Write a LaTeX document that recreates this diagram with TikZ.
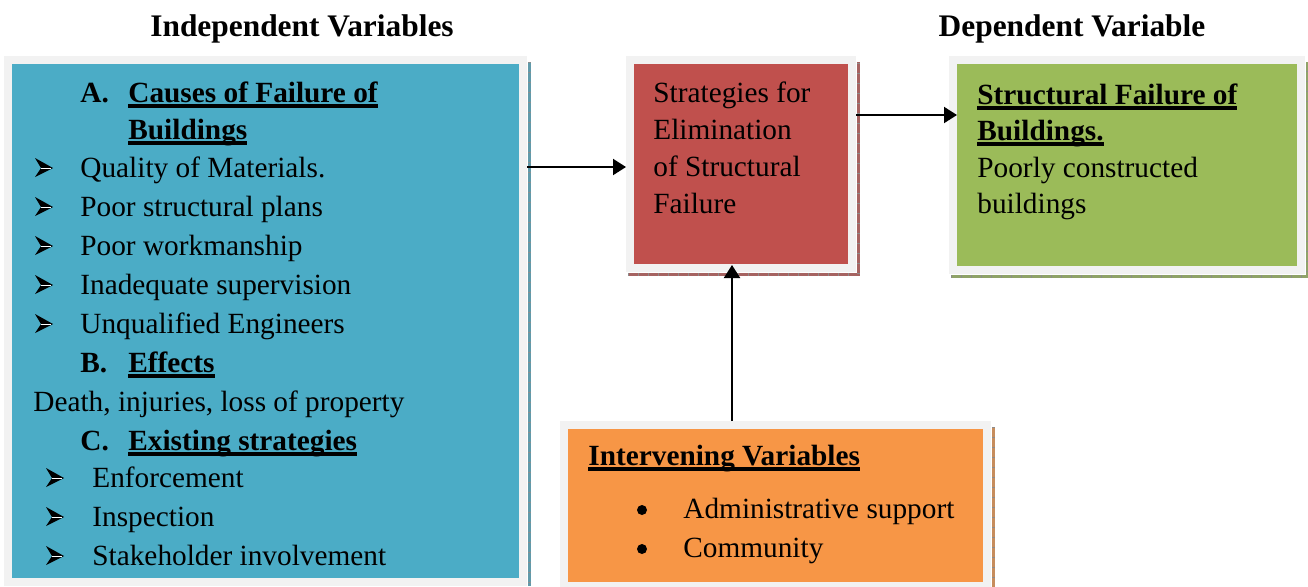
\documentclass[tikz,border=0pt]{standalone}
\usepackage{fontspec}
\setmainfont{Liberation Serif}
\usetikzlibrary{arrows.meta,fit,positioning}
\newcommand{\thickul}[1]{\setbox0\hbox{#1}\rlap{\rule[-2.8pt]{\wd0}{1.6pt}}\box0}
\definecolor{framegray}{RGB}{242,242,242}
\definecolor{indepblue}{RGB}{75,172,198}
\definecolor{stratred}{RGB}{192,80,77}
\definecolor{depgreen}{RGB}{155,187,89}
\definecolor{intorange}{RGB}{247,150,70}
\tikzstyle{varbox} = [rectangle, draw=framegray, line width=4pt, inner sep=0pt, outer sep=2pt]
\tikzstyle{txt} = [anchor=base west, inner sep=0pt, font=\fontsize{14.65}{18}\selectfont]
\tikzstyle{head} = [txt, font=\fontsize{14.65}{18}\selectfont\bfseries]
\tikzstyle{title} = [anchor=base, inner sep=0pt, font=\fontsize{15.7}{19}\selectfont\bfseries]
\tikzstyle{dotbul} = [circle, fill=black, inner sep=0pt, minimum size=5pt]
\tikzstyle{shadowline} = [line width=1.5pt, postaction={draw=black!45, line width=1.5pt, dash pattern=on 0.5pt off 4.5pt}]
\tikzstyle{flow} = [draw, line width=1pt, -{Triangle[length=6.5pt,width=8pt]}]
\tikzset{arrowmark/.pic={
  \fill[black] (0,-19) -- (18,-9) -- (0,0) -- (6,-9) -- cycle;
  \draw[white, line width=0.3pt] (6,-9) -- (16,-9);
}}

\begin{document}
\begin{tikzpicture}[x=0.5pt, y=-0.5pt]
\useasboundingbox (0,0) rectangle (1308,586);

% variable boxes =============================
\node[varbox, fill=indepblue, fit={(8,60) (523,582)}] (indep) {};
\node[varbox, fill=stratred, fit={(630,60) (852,268)}] (strat) {};
\node[varbox, fill=depgreen, fit={(953,60) (1301,270)}] (dep) {};
\node[varbox, fill=intorange, fit={(564,425) (987,586)}] (interv) {};

% shadows
\draw[shadowline, indepblue!60!gray] ([shift={(1pt,-3pt)}]indep.north east) -- ([xshift=1pt]indep.south east);
\draw[shadowline, stratred!60!gray] ([shift={(1pt,-1pt)}]strat.south west) -- ([shift={(1pt,-1pt)}]strat.south east) -- ([shift={(1pt,-3pt)}]strat.north east);
\draw[shadowline, depgreen!60!gray] ([shift={(1pt,-1pt)}]dep.south west) -- ([shift={(1pt,-1pt)}]dep.south east) -- ([shift={(1pt,-3pt)}]dep.north east);
\draw[shadowline, intorange!60!gray] ([shift={(1pt,-3pt)}]interv.north east) -- ([xshift=1pt]interv.south east);

% titles
\node[title] (indtitle) at (302,36) {Independent Variables};
\node[title] (deptitle) at (1072,36) {Dependent Variable};

% independent variables
\node[head] (lblA) at (80,102) {A.};
\node[head] (causes1) at (128,102) {\thickul{Causes of Failure of}};
\node[head] (causes2) at (128,139) {\thickul{Buildings}};
\foreach \txt [count=\i] in {Quality of Materials., Poor structural plans, Poor workmanship, Inadequate supervision, Unqualified Engineers} {
  \pic at (35,{177+39*(\i-1)}) {arrowmark};
  \node[txt] (cause\i) at (80,{177+39*(\i-1)}) {\txt};
}
\node[head] (lblB) at (80,372) {B.};
\node[head] (effects) at (128,372) {\thickul{Effects}};
\node[txt] (death) at (33,411) {Death, injuries, loss of property};
\node[head] (lblC) at (80,450) {C.};
\node[head] (existing) at (128,450) {\thickul{Existing strategies}};
\foreach \txt [count=\i] in {Enforcement, Inspection, Stakeholder involvement} {
  \pic at (46,{487+39*(\i-1)}) {arrowmark};
  \node[txt] (strategy\i) at (92,{487+39*(\i-1)}) {\txt};
}

% strategies
\foreach \txt [count=\i] in {Strategies for, Elimination, of Structural, Failure}
  \node[txt] (elim\i) at (653,{102+37*(\i-1)}) {\txt};

% dependent variable
\node[head] (fail1) at (977,104) {\thickul{Structural Failure of}};
\node[head] (fail2) at (977,140) {\thickul{Buildings.}};
\node[txt] (poor1) at (977,177) {Poorly constructed};
\node[txt] (poor2) at (977,213) {buildings};

% intervening variables
\node[head] (intvhead) at (588,465) {\thickul{Intervening Variables}};
\foreach \txt [count=\i] in {Administrative support, Community} {
  \node[dotbul] (dot\i) at (642,{510+39*(\i-1)}) {};
  \node[txt] (intv\i) at (683,{518+39*(\i-1)}) {\txt};
}

% edges
\coordinate (inarrow) at (0,167);
\coordinate (outarrow) at (0,115);
\coordinate (uparrow) at (732,0);
\draw[flow] (indep.east |- inarrow) -- (strat.west |- inarrow);
\draw[flow, shorten >=-4pt] (strat.east |- outarrow) -- (dep.west |- outarrow);
\draw[flow, shorten >=-3.5pt] (interv.north -| uparrow) -- (strat.south -| uparrow);

\end{tikzpicture}
\end{document}
